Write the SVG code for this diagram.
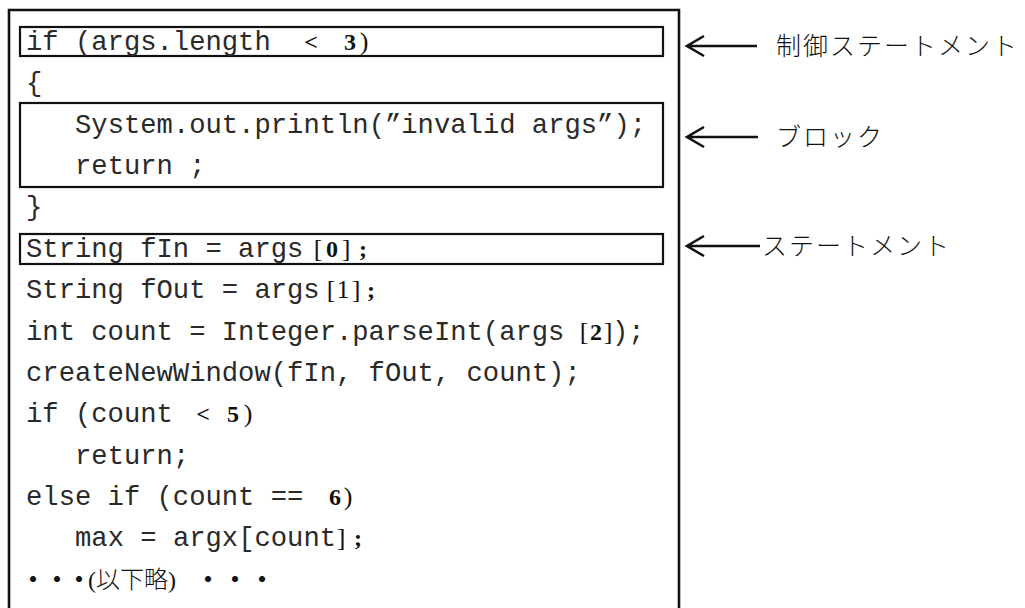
<svg xmlns="http://www.w3.org/2000/svg" width="1025" height="608" viewBox="0 0 1025 608">
  <style>
    .code { font-family: "Liberation Mono", "DejaVu Sans Mono", monospace; font-size: 27.2px; fill: #2a2a2a; }
    .num { font-family: "Liberation Serif", serif; font-size: 24px; font-weight: bold; fill: #111; text-anchor: middle; }
    .brk { font-family: "Liberation Serif", serif; font-size: 26px; fill: #111; text-anchor: middle; }
    .jp { font-family: "Liberation Serif", "Noto Sans CJK JP", serif; font-size: 25px; font-weight: 300; fill: #111; letter-spacing: 2px; }
    .jpc { font-family: "Liberation Serif", "Noto Sans CJK JP", serif; font-size: 24px; font-weight: 300; fill: #111; }
    .dot { font-weight: bold; }
    .frame { fill: none; stroke: #111; stroke-width: 2.6; }
    .box { fill: none; stroke: #111; stroke-width: 2.2; }
    .arrow { fill: none; stroke: #111; stroke-width: 2.6; stroke-linecap: butt; }
  </style>

  <rect width="1025" height="608" fill="#fff"/>

  <!-- outer listing frame, open at the bottom -->
  <path id="listing-frame" class="frame" d="M9,612 V10 H679 V612"/>

  <!-- highlighted regions -->
  <g id="control-statement">
    <rect class="box" x="20" y="27" width="643" height="29"/>
  </g>
  <g id="block">
    <rect class="box" x="20" y="103" width="643" height="84"/>
  </g>
  <g id="statement">
    <rect class="box" x="20" y="234" width="643" height="30"/>
  </g>

  <!-- source lines -->
  <g id="code">
    <text class="code" x="26" y="50">if (args.length</text>
    <text class="num" x="311" y="50">&lt;</text>
    <text class="num" x="350" y="50">3</text>
    <text class="brk" x="364" y="50">)</text>

    <text class="code" x="26" y="91.4">{</text>
    <text class="code" x="75" y="132.7">System.out.println(”invalid args”);</text>
    <text class="code" x="75" y="174">return ;</text>
    <text class="code" x="26" y="215.4">}</text>

    <text class="code" x="26" y="256.8">String fIn = args</text>
    <text class="brk" x="318" y="256.8">[</text>
    <text class="num" x="332" y="256.8">0</text>
    <text class="brk" x="346" y="256.8">]</text>
    <text class="num" x="363" y="256.8">;</text>

    <text class="code" x="26" y="298">String fOut = args</text>
    <text class="brk" x="331" y="298">[</text>
    <text class="brk" x="343" y="298">1</text>
    <text class="brk" x="356" y="298">]</text>
    <text class="num" x="371" y="298">;</text>

    <text class="code" x="26" y="339.5">int count = Integer.parseInt(args</text>
    <text class="brk" x="584" y="339.5">[</text>
    <text class="num" x="596" y="339.5">2</text>
    <text class="brk" x="608" y="339.5">]</text>
    <text class="code" x="612" y="339.5">);</text>

    <text class="code" x="26" y="380.8">createNewWindow(fIn, fOut, count);</text>

    <text class="code" x="26" y="422">if (count</text>
    <text class="num" x="203" y="422">&lt;</text>
    <text class="num" x="233" y="422">5</text>
    <text class="brk" x="248" y="422">)</text>

    <text class="code" x="75" y="463.5">return;</text>

    <text class="code" x="26" y="505">else if (count ==</text>
    <text class="num" x="335" y="505">6</text>
    <text class="brk" x="348" y="505">)</text>

    <text class="code" x="75" y="546">max = argx[count</text>
    <text class="brk" x="341" y="546">]</text>
    <text class="num" x="358" y="546">;</text>

    <!-- elided remainder: one run, glyphs placed individually -->
    <text class="jpc" y="587.5" x="21 45 67 88 96 120 144 168 196 223 250"><tspan class="dot">・・・</tspan>(以下略)<tspan class="dot">・・・</tspan></text>
  </g>

  <!-- pointer arrows -->
  <g id="connectors">
    <path class="arrow" d="M687,46 H757 M704,36 L687,46 L704,56"/>
    <path class="arrow" d="M687,137 H758 M704,127 L687,137 L704,147"/>
    <path class="arrow" d="M687,246 H760 M704,236 L687,246 L704,256"/>
  </g>

  <!-- labels -->
  <g id="label-control">
    <text class="jp" x="776" y="55">制御ステートメント</text>
  </g>
  <g id="label-block">
    <text class="jp" x="776" y="146">ブロック</text>
  </g>
  <g id="label-statement">
    <text class="jp" x="762" y="255">ステートメント</text>
  </g>
</svg>
